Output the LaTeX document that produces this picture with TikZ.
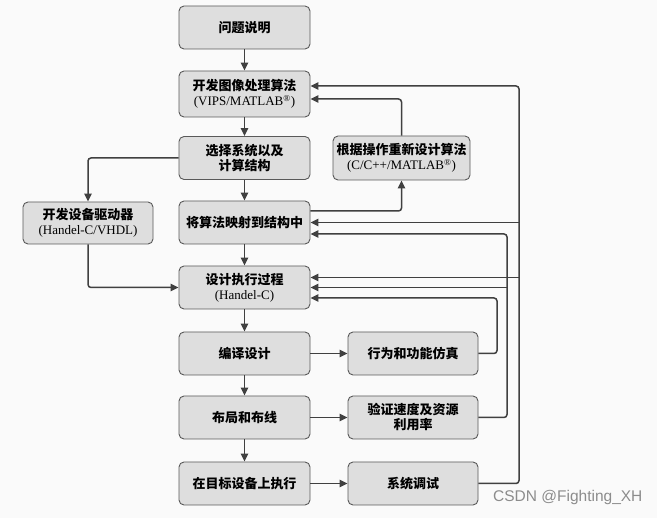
\documentclass[tikz,border=0pt]{standalone}
\usepackage{fontspec}
\setmainfont{Liberation Serif}
\newfontfamily\cjk{Noto Sans CJK SC}
\newfontfamily\wmfont{Liberation Sans}
\usetikzlibrary{arrows.meta}
\newcommand{\zh}[1]{{\cjk\bfseries #1}}

\begin{document}
\begin{tikzpicture}[x=1pt, y=-1pt,
    blk/.style={draw=black!65, fill=black!13, rounded corners=5pt, line width=0.9pt,
        minimum width=131pt, minimum height=43pt, inner sep=1pt, align=center,
        font=\fontsize{13}{15}\selectfont},
    flow/.style={-{Triangle[length=8pt, width=7.5pt]}, line width=1.5pt, draw=black!75, rounded corners=3pt} ]

        \fill[black!2] (0,0) rectangle (657,518);
        \useasboundingbox (0,0) rectangle (657,518);

        % main column
        \node[blk] (prob) at (244.5,27.5) {\zh{问题说明}};
        \node[blk, minimum height=46pt] (algo) at (244.5,94) {\zh{开发图像处理算法}\\(VIPS/MATLAB\textsuperscript{\textregistered})};
        \node[blk] (arch) at (244.5,158) {\zh{选择系统以及}\\\zh{计算结构}};
        \node[blk] (mapn) at (244.5,222.5) {\zh{将算法映射到结构中}};
        \node[blk] (impl) at (244.5,287.5) {\zh{设计执行过程}\\(Handel-C)};
        \node[blk] (comp) at (244.5,353.5) {\zh{编译设计}};
        \node[blk] (place) at (244.5,417.5) {\zh{布局和布线}};
        \node[blk] (exec) at (244.5,483.5) {\zh{在目标设备上执行}};

        % side boxes
        \node[blk, minimum width=130pt] (sim) at (413,353.5) {\zh{行为和功能仿真}};
        \node[blk, minimum width=130pt] (verif) at (413,417.5) {\zh{验证速度及资源}\\\zh{利用率}};
        \node[blk, minimum width=130pt] (debug) at (413,483.5) {\zh{系统调试}};
        \node[blk, minimum width=130pt, minimum height=42pt] (drv) at (88,223) {\zh{开发设备驱动器}\\(Handel-C/VHDL)};
        \node[blk, minimum width=137pt, minimum height=44pt] (redo) at (401.5,158) {\zh{根据操作重新设计算法}\\(C/C++/MATLAB\textsuperscript{\textregistered})};

        \foreach \a/\b in {prob/algo,algo/arch,arch/mapn,mapn/impl,impl/comp,comp/place,place/exec}
            \draw[flow] (\a) -- (\b);
        \foreach \a/\b in {comp/sim,place/verif,exec/debug}
            \draw[flow] (\a) -- (\b);

        \draw[flow] (arch.west) -| (drv.north);
        \draw[flow] (drv.south) |- (impl.west);
        \draw[flow] ([yshift=11.5pt]mapn.east) -| (redo.south);
        \draw[flow] (redo.north) |- ([yshift=-5pt]algo.east);

        % feedback loops
        \coordinate (fbO) at (519,86);
        \coordinate (fbM) at (507,234);
        \coordinate (fbI) at (497,298);
        \coordinate (impl1) at ([yshift=10pt]impl.east);
        \draw[flow] (debug.east) -| (fbO) -- (fbO -| algo.east);
        \draw[flow] (fbO |- mapn.east) -- (mapn.east);
        \draw[flow] (fbO |- impl1) -- (impl1);
        \draw[flow] (verif.east) -| (fbM) -- (fbM -| mapn.east);
        \draw[flow] (fbM |- impl.east) -- (impl.east);
        \draw[flow] (sim.east) -| (fbI) -- (fbI -| impl.east);

        \node[anchor=east, text=black!45, font=\wmfont\fontsize{15.5}{15.5}\selectfont] (mark) at (646,497) {CSDN @Fighting\_XH};

\end{tikzpicture}
\end{document}
